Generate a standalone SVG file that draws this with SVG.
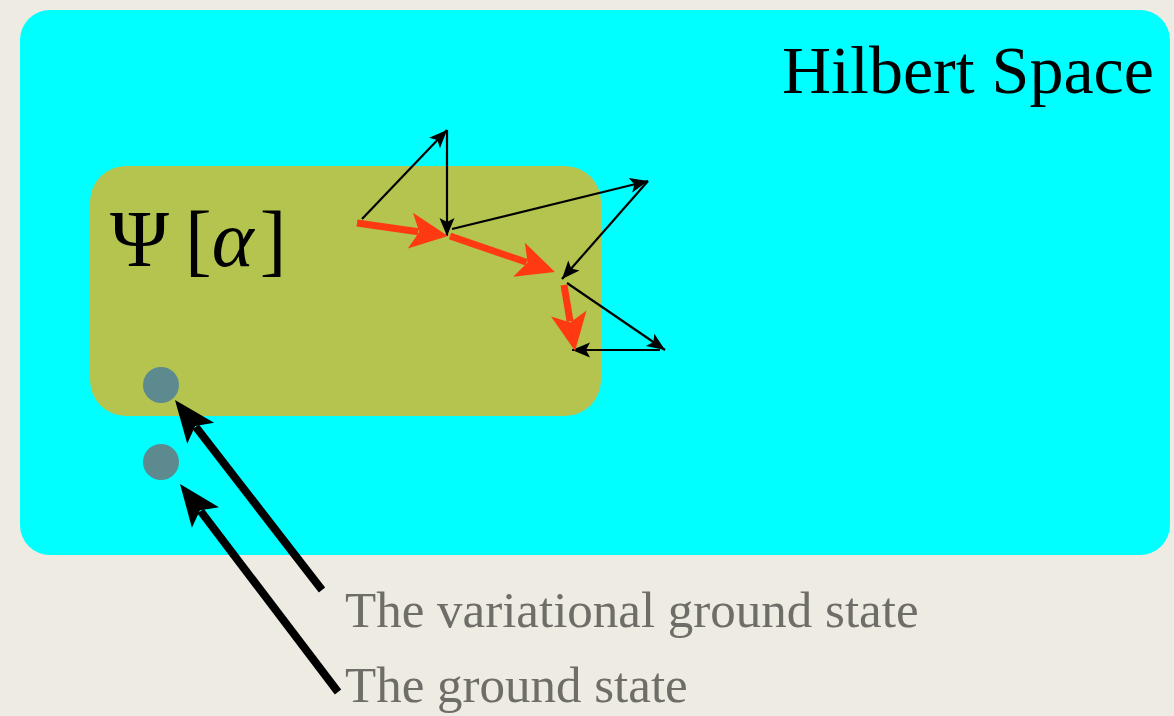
<svg xmlns="http://www.w3.org/2000/svg" width="1174" height="716" viewBox="0 0 1174 716">
<style>
.thin{stroke:#000;stroke-width:2.2;fill:none;marker-end:url(#hb)}
.red{stroke:#FF3A12;stroke-width:7;fill:none;marker-end:url(#hr)}
.thick{stroke:#000;stroke-width:8;fill:none;marker-end:url(#hk)}
.lbl{font-family:"Liberation Serif",serif;fill:#6e6d67;font-size:51px}
.dot{fill:#5c8a8f}
</style>
<defs>
<marker id="hb" markerUnits="userSpaceOnUse" markerWidth="24" markerHeight="18" refX="20" refY="9" orient="auto" overflow="visible"><path d="M20,9 L2,1.5 L6,9 L2,16.5 Z" fill="#000"/></marker>
<marker id="hr" markerUnits="userSpaceOnUse" markerWidth="40" markerHeight="38" refX="4" refY="19" orient="auto" overflow="visible"><path d="M34,19 L-4,1 L5,19 L-4,37 Z" fill="#FF3A12"/></marker>
<marker id="hk" markerUnits="userSpaceOnUse" markerWidth="44" markerHeight="38" refX="4" refY="19" orient="auto" overflow="visible"><path d="M38,19 L-4,2 L5,19 L-4,36 Z" fill="#000"/></marker>
</defs>
<rect width="1174" height="716" fill="#EEEBE3"/>
<g id="hilbert">
<rect x="20" y="10" width="1150" height="545" rx="30" fill="#00FFFF"/>
<text x="782" y="93" font-family="Liberation Serif,serif" font-size="68" fill="#000">Hilbert Space</text>
</g>
<g id="psi">
<rect x="90" y="166" width="511" height="250" rx="36" fill="#B4C44E"/>
<text x="110" y="266" font-family="Liberation Serif,serif" font-size="80" fill="#000">Ψ<tspan dx="16">[</tspan><tspan font-style="italic">α</tspan><tspan dx="6">]</tspan></text>
</g>
<g id="dots">
<circle id="var-gs" class="dot" cx="161" cy="385" r="18"/>
<circle id="gs" class="dot" cx="161" cy="462" r="18"/>
</g>
<g id="labels">
<text class="lbl" x="345" y="627">The variational ground state</text>
<text class="lbl" x="345" y="702">The ground state</text>
</g>
<g id="connectors">
<line class="thin" x1="362" y1="219" x2="447" y2="130"/>
<line class="thin" x1="447" y1="130" x2="447" y2="236"/>
<line class="thin" x1="452" y1="229" x2="648" y2="181"/>
<line class="thin" x1="648" y1="181" x2="562" y2="279"/>
<line class="thin" x1="567" y1="283" x2="665" y2="350"/>
<line class="thin" x1="660" y1="350" x2="572" y2="350"/>
<line class="red" x1="357" y1="223" x2="418.3" y2="231.8"/>
<line class="red" x1="450" y1="236" x2="526.6" y2="262.3"/>
<line class="red" x1="564" y1="285" x2="570.1" y2="321.4"/>
<line class="thick" x1="322" y1="590" x2="195.8" y2="426.9"/>
<line class="thick" x1="338" y1="692" x2="200.6" y2="511.1"/>
</g>
</svg>
